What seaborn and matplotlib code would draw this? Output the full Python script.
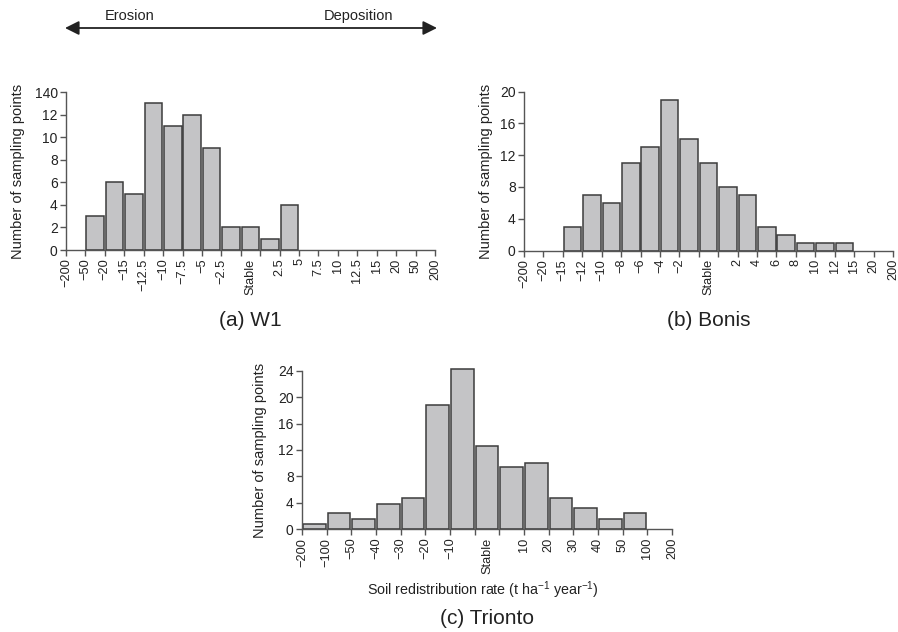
import numpy as np
import pandas as pd
import matplotlib
matplotlib.use("Agg")
import matplotlib.pyplot as plt
import seaborn as sns

sns.set_theme(style="white")
plt.rcParams["font.family"] = ["Liberation Sans", "DejaVu Sans"]
plt.rcParams["mathtext.fontset"] = "custom"
plt.rcParams["mathtext.rm"] = "Liberation Sans"
plt.rcParams["mathtext.it"] = "Liberation Sans:italic"
plt.rcParams["axes.unicode_minus"] = True

# ---------------- data ----------------
w1_edges = ["−200", "−50", "−20", "−15", "−12.5", "−10", "−7.5", "−5", "−2.5", "", "",
            "2.5", "5", "7.5", "10", "12.5", "15", "20", "50", "200"]
w1_counts = [0, 3, 6, 5, 13, 11, 12, 9, 2, 2, 1, 4, 0, 0, 0, 0, 0, 0, 0]
w1_yticks = [0, 2, 4, 6, 8, 10, 12, 14]
w1_yticklabels = ["0", "2", "4", "6", "8", "10", "12", "140"]

bonis_edges = ["−200", "−20", "−15", "−12", "−10", "−8", "−6", "−4", "−2", "", "",
               "2", "4", "6", "8", "10", "12", "15", "20", "200"]
bonis_counts = [0, 0, 3, 7, 6, 11, 13, 19, 14, 11, 8, 7, 3, 2, 1, 1, 1, 0, 0]
bonis_yticks = [0, 4, 8, 12, 16, 20]

trionto_edges = ["−200", "−100", "−50", "−40", "−30", "−20", "−10", "", "",
                 "10", "20", "30", "40", "50", "100", "200"]
trionto_counts = [0.8, 2.4, 1.6, 3.9, 4.7, 18.8, 24.2, 12.6, 9.4, 10.1, 4.7, 3.2, 1.6, 2.4, 0]
trionto_yticks = [0, 4, 8, 12, 16, 20, 24]

stable_label = "Stable"
titles = ["(a) W1", "(b) Bonis", "(c) Trionto"]
ylabel = "Number of sampling points"
xlabel = r"Soil redistribution rate (t ha$^{-1}$ year$^{-1}$)"

# ---------------- figure ----------------
W, H = 898, 632
fig = plt.figure(figsize=(W / 100, H / 100), dpi=100)

FILL = "#c4c4c6"
EDGE = "#3c3c3c"
SPINE = "#555555"
TXT = "#222222"


def panel(rect, edges, counts, yticks, yticklabels, ylim, width, stable_idx, ylab_x):
    ax = fig.add_axes(rect)
    n = len(counts)
    df = pd.DataFrame({"bin": np.arange(n), "count": counts})
    df = df[df["count"] > 0]
    sns.barplot(data=df, x="bin", y="count", order=list(range(n)), ax=ax, color=FILL,
                saturation=1, width=width, edgecolor=EDGE, linewidth=1.1, errorbar=None)
    for p in ax.patches:
        p.set_facecolor(FILL)
        p.set_clip_on(False)
    ax.set_xlim(-0.5, n - 0.5)
    ax.set_ylim(*ylim)
    ax.set_xticks(np.arange(n + 1) - 0.5)
    ax.set_xticklabels(edges, rotation=90, fontsize=9.2, color=TXT)
    ax.set_xticks([stable_idx], minor=True)
    ax.set_xticklabels([stable_label], minor=True, rotation=90, fontsize=9.2, color=TXT)
    ax.set_yticks(yticks)
    ax.set_yticklabels(yticklabels, fontsize=10, color=TXT)
    ax.tick_params(axis="both", which="major", direction="out", length=4, width=1,
                   color=SPINE, pad=2, bottom=True, left=True)
    ax.tick_params(axis="x", which="minor", length=0, pad=6, bottom=True)
    for s in ["top", "right"]:
        ax.spines[s].set_visible(False)
    for s in ["left", "bottom"]:
        ax.spines[s].set_color(SPINE)
        ax.spines[s].set_linewidth(1)
    ax.set_xlabel("")
    ax.set_ylabel(ylabel, fontsize=10.5, color=TXT)
    ax.yaxis.set_label_coords(ylab_x, 0.5)
    return ax


def rect_from_px(left, right, y0px, ytop_px):
    return [left / W, 1 - y0px / H, (right - left) / W, (y0px - ytop_px) / H]


ax_a = panel(rect_from_px(66, 435, 250, 92), w1_edges, w1_counts, w1_yticks,
             w1_yticklabels, (0, 14), 0.9, 9, -0.111)
ax_b = panel(rect_from_px(524, 893, 250.5, 91.7), bonis_edges, bonis_counts, bonis_yticks,
             [str(v) for v in bonis_yticks], (0, 20), 0.9, 9, -0.084)
ax_c = panel(rect_from_px(302, 672, 529.3, 370.7), trionto_edges, trionto_counts,
             trionto_yticks, [str(v) for v in trionto_yticks], (0, 24), 0.93, 7, -0.095)

fig.text(483 / W, 1 - 590 / H, xlabel, fontsize=10.3, ha="center", va="center", color=TXT)

# panel titles
fig.text(250.5 / W, 1 - 321 / H, titles[0], fontsize=15, ha="center", va="center", color=TXT)
fig.text(709 / W, 1 - 321 / H, titles[1], fontsize=15, ha="center", va="center", color=TXT)
fig.text(487 / W, 1 - 618 / H, titles[2], fontsize=15, ha="center", va="center", color=TXT)

# erosion / deposition arrow
fig.add_artist(matplotlib.patches.FancyArrowPatch(
    (65 / W, 1 - 28 / H), (437 / W, 1 - 28 / H), transform=fig.transFigure,
    arrowstyle="<|-|>,head_length=0.6,head_width=0.3", mutation_scale=14,
    color=TXT, linewidth=1.3, shrinkA=0, shrinkB=0))
fig.text(105 / W, 1 - 16 / H, "Erosion", fontsize=10.5, ha="left", va="center", color=TXT)
fig.text(324 / W, 1 - 16 / H, "Deposition", fontsize=10.5, ha="left", va="center", color=TXT)

fig.savefig("out.png", dpi=100)
